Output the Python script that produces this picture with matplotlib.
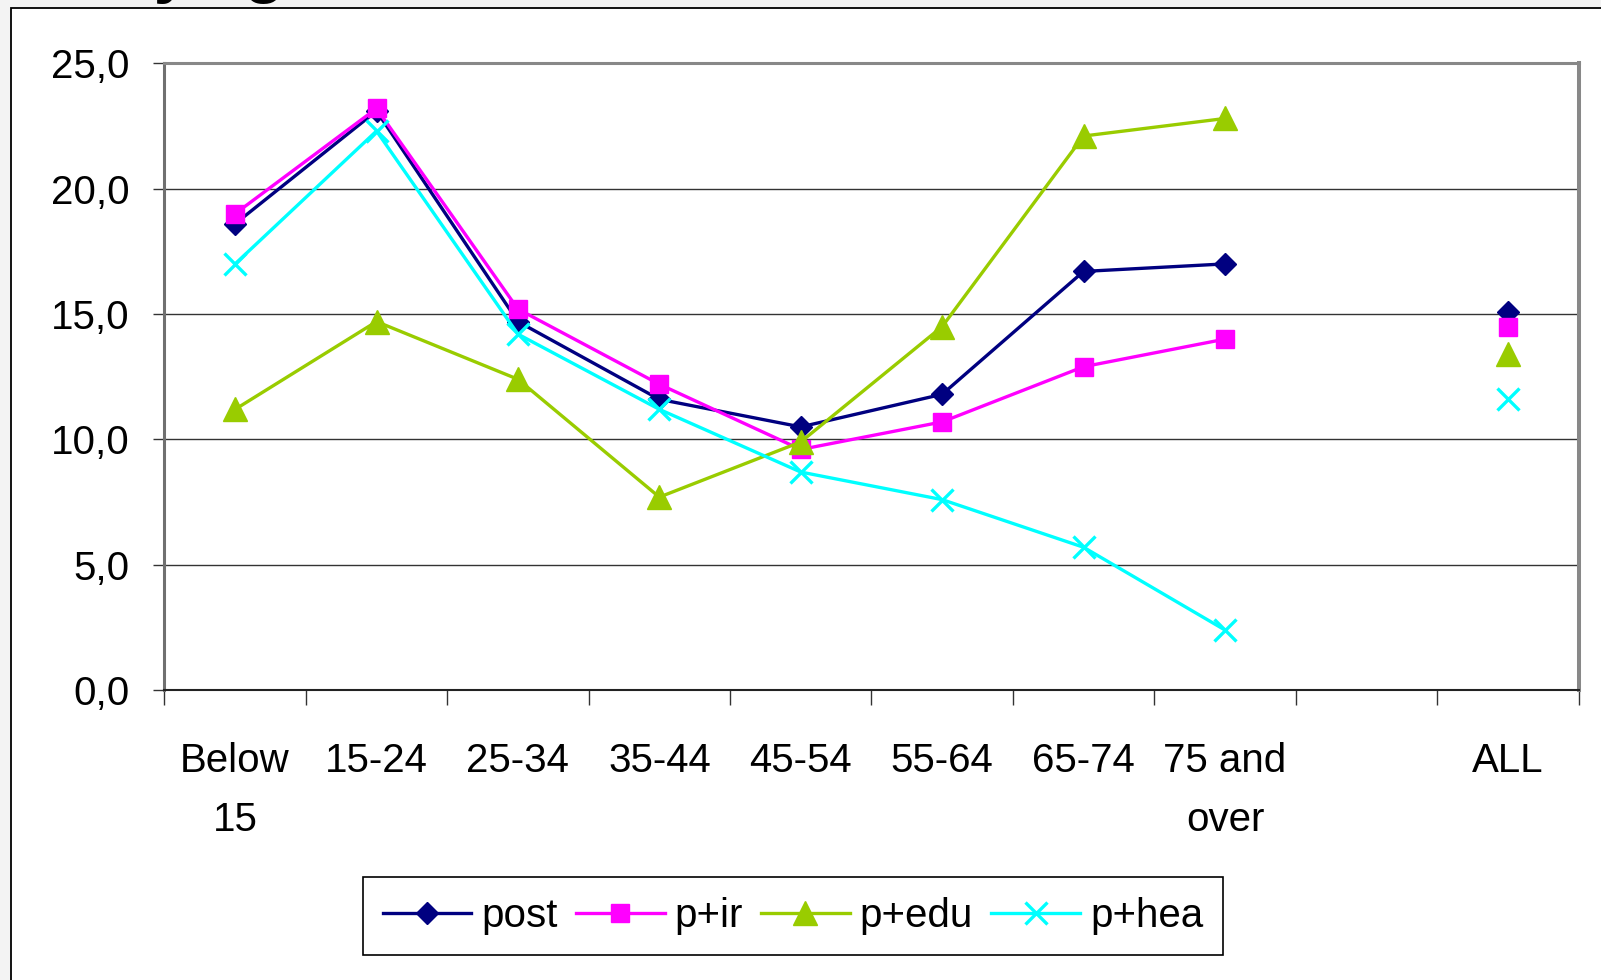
import numpy as np
import matplotlib
matplotlib.use("Agg")
import matplotlib.pyplot as plt
from matplotlib.patches import Rectangle
from matplotlib.ticker import FixedLocator, FuncFormatter

plt.rcParams["font.family"] = ["Liberation Sans", "DejaVu Sans"]

# data (index 8 is the empty slot before ALL)
categories = ["Below\n15", "15-24", "25-34", "35-44", "45-54", "55-64",
              "65-74", "75 and\nover", "", "ALL"]
post = [18.6, 23.1, 14.7, 11.6, 10.5, 11.8, 16.7, 17.0, np.nan, 15.1]
p_ir = [19.0, 23.2, 15.2, 12.2, 9.6, 10.7, 12.9, 14.0, np.nan, 14.5]
p_edu = [11.2, 14.7, 12.4, 7.7, 9.9, 14.5, 22.1, 22.8, np.nan, 13.4]
p_hea = [17.0, 22.3, 14.2, 11.2, 8.7, 7.6, 5.7, 2.4, np.nan, 11.6]
series_names = ["post", "p+ir", "p+edu", "p+hea"]
y_ticks = [0, 5, 10, 15, 20, 25]

W, H = 1601, 980
fig = plt.figure(figsize=(W / 100, H / 100), dpi=100, facecolor="#f3f3f3")

# white chart area with its black border (partly outside the screenshot)
fig.patches.append(Rectangle((11 / W, -0.1), 1.2, 1.1 - 8 / H,
                             transform=fig.transFigure, facecolor="white",
                             edgecolor="black", lw=1.3, zorder=-5))

# title, mostly cut off at the top of the screenshot
fig.text(114 / W, 1 + 9 / H, "by age", fontsize=47, fontweight="bold",
         ha="left", va="baseline", zorder=-4)

ax = fig.add_axes([164.4 / W, 1 - 690.2 / H, 1414.1 / W, 626.9 / H])
ax.set_zorder(2)
ax.set_facecolor("white")

x = np.arange(len(categories))
styles = [
    dict(color="#000080", marker="D", ms=11.5),
    dict(color="#ff00ff", marker="s", ms=13.5),
    dict(color="#99cc00", marker="^", ms=17.5),
    dict(color="#00ffff", marker="x", ms=15.5, mew=2.4),
]
for vals, name, st in zip([post, p_ir, p_edu, p_hea], series_names, styles):
    ax.plot(x, vals, lw=2.4, label=name, zorder=3, **st)

ax.set_xlim(-0.5, len(categories) - 0.5)
ax.set_ylim(0, 25)
ax.set_yticks(y_ticks)
ax.yaxis.set_major_formatter(FuncFormatter(lambda v, p: f"{v:.1f}".replace(".", ",")))
ax.grid(axis="y", color="#333333", lw=1.0)
ax.set_axisbelow(True)

ax.set_xticks(x)
ax.set_xticklabels(categories, linespacing=1.7)
ax.xaxis.set_minor_locator(FixedLocator(np.arange(-0.5, len(categories), 1.0)))
ax.tick_params(axis="x", which="major", length=0, pad=37, labelsize=29)
ax.tick_params(axis="x", which="minor", length=10.5, width=1.0, color="#333333")
ax.tick_params(axis="y", length=8, width=1.0, color="#333333", pad=17, labelsize=29)

for side, c, lw in [("left", "#707070", 2.2), ("top", "#888888", 2.2),
                    ("right", "#888888", 2.9), ("bottom", "#222222", 1.5)]:
    ax.spines[side].set_color(c)
    ax.spines[side].set_linewidth(lw)

leg = ax.legend(loc="center", bbox_to_anchor=(793 / W, 1 - 916 / H),
                bbox_transform=fig.transFigure, ncol=4, fontsize=29,
                handlelength=2.2, handletextpad=0.25, columnspacing=0.45,
                borderpad=0.5, fancybox=False, framealpha=1)
leg.get_frame().set_edgecolor("black")
leg.get_frame().set_linewidth(1.2)

fig.savefig("out.png", dpi=100, facecolor=fig.get_facecolor())
